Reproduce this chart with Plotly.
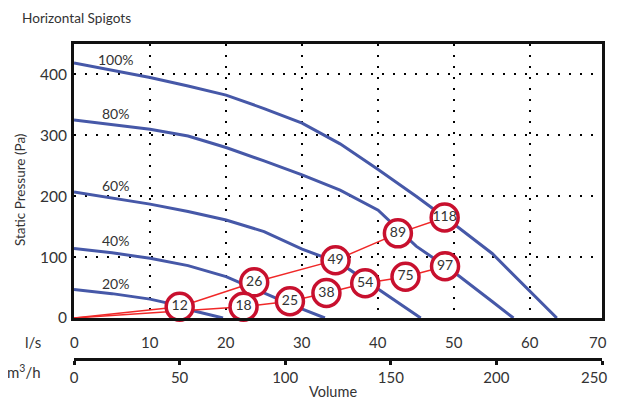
import plotly.graph_objects as go

# ---------------- data ----------------
# Fan curves: flow in l/s, static pressure in Pa
flow_100 = [0, 5, 10, 15, 20, 25, 30, 35, 40, 45, 50, 55, 60, 63.5]
pres_100 = [419, 407, 395, 381, 366, 344, 320, 286, 244, 200, 154, 106, 44, 0]

flow_80 = [0, 5, 10, 15, 20, 25, 30, 35, 40, 45, 50, 55, 57.8]
pres_80 = [325, 318, 310, 299, 280, 258, 235, 210, 177, 118, 75, 27, 0]

flow_60 = [0, 5, 10, 15, 20, 25, 30, 35, 40, 42.7, 45.6]
pres_60 = [207, 197, 187, 175, 161, 142, 113, 90, 47, 24, 0]

flow_40 = [0, 5, 10, 15, 20, 24, 28.7, 33]
pres_40 = [114, 107, 98, 86, 68, 46, 21, 0]

flow_20 = [0, 5, 10, 12.5, 15, 17.5, 19.6]
pres_20 = [47, 40, 31, 24, 14, 6, 0]

curve_labels = ["100%", "80%", "60%", "40%", "20%"]

# System lines with marked operating points
sysA_flow = [0, 13.9, 23.7, 34.4, 42.6, 48.75]
sysA_pres = [0, 18.5, 58.6, 95, 139, 165]
sysA_marks = ["", "12", "26", "49", "89", "118"]

sysB_flow = [0, 22.3, 28.4, 33.2, 38.3, 43.6, 48.8]
sysB_pres = [0, 18.5, 27.5, 41, 57, 67.8, 85]
sysB_marks = ["", "18", "25", "38", "54", "75", "97"]

# axis ticks
ls_ticks = [0, 10, 20, 30, 40, 50, 60, 70]
m3h_ticks = [0, 50, 100, 150, 200, 250]
pa_ticks = [0, 100, 200, 300, 400]

# ---------------- styling ----------------
FONT = "Lato"
TXT = "#333333"
BLUE = "#4658a8"
RED_LINE = "#f02828"
RED_RING = "#c8102e"

fig = go.Figure()

curves = [(flow_100, pres_100), (flow_80, pres_80), (flow_60, pres_60),
          (flow_40, pres_40), (flow_20, pres_20)]
for fx, fy in curves:
    fig.add_trace(go.Scatter(x=fx, y=fy, mode="lines",
                             line=dict(color=BLUE, width=3),
                             showlegend=False, hoverinfo="skip"))

for sx, sy in [(sysA_flow, sysA_pres), (sysB_flow, sysB_pres)]:
    fig.add_trace(go.Scatter(x=sx, y=sy, mode="lines",
                             line=dict(color=RED_LINE, width=1.5),
                             showlegend=False, hoverinfo="skip"))

for sx, sy, marks in [(sysA_flow, sysA_pres, sysA_marks),
                      (sysB_flow, sysB_pres, sysB_marks)]:
    fig.add_trace(go.Scatter(
        x=sx[1:], y=sy[1:], mode="markers+text", text=marks[1:],
        textposition="middle center",
        textfont=dict(family=FONT, size=14, color=TXT),
        marker=dict(size=27, color="white",
                    line=dict(color=RED_RING, width=3.5)),
        cliponaxis=False, showlegend=False, hoverinfo="skip"))

# invisible trace so the m3/h axis is drawn
fig.add_trace(go.Scatter(x=[m3h_ticks[0], m3h_ticks[-1]], y=[0, 0],
                         xaxis="x2", mode="markers",
                         marker=dict(opacity=0), showlegend=False,
                         hoverinfo="skip"))

# ---------------- layout ----------------
# the page shows the figure inside an 8px body margin, so the figure is
# 16px smaller than the window and every position is shifted by 8px
OFF = 8
W, H = 617 - 2 * OFF, 407 - 2 * OFF
L, T = 74 - OFF, 44 - OFF
R = W - (602 - OFF)
B = H - (395 - OFF)
plot_h = H - T - B
plot_w = W - L - R
X_MAX = 250 / 3.6          # l/s range matching 0..250 m3/h


def py(pix):
    """reference pixel row -> paper y"""
    return (H - B - (pix - OFF)) / plot_h


def px(pix):
    """reference pixel column -> paper x"""
    return (pix - OFF - L) / plot_w


ydom_bottom = py(318)

grid = dict(showgrid=True, gridcolor="#000000", gridwidth=2,
            griddash="2px,9px")

m3h_text = [str(v) for v in m3h_ticks[:-1]] + [""]

fig.update_layout(
    width=W, height=H,
    margin=dict(l=L, r=R, t=T, b=B, autoexpand=False),
    paper_bgcolor="white", plot_bgcolor="white",
    font=dict(family=FONT, color=TXT, size=15),
    xaxis=dict(domain=[0, 1], range=[0, X_MAX], automargin=False,
               tickvals=ls_ticks[1:-1], showticklabels=False, ticks="",
               showline=True, linecolor="#111111", linewidth=3, mirror=True,
               zeroline=False, anchor="y", **grid),
    yaxis=dict(domain=[ydom_bottom, 1], range=[0, 450], automargin=False,
               tickvals=pa_ticks, ticks="outside", ticklen=1,
               tickcolor="rgba(0,0,0,0)",
               tickfont=dict(family=FONT, size=15.5, color=TXT),
               showline=True, linecolor="#111111", linewidth=3, mirror=True,
               zeroline=False, **grid),
    xaxis2=dict(overlaying="x", anchor="free", position=py(359),
                automargin=False, ticklabeloverflow="allow",
                range=[0, 250.001], tickvals=m3h_ticks, ticktext=m3h_text,
                ticks="outside", ticklen=4, tickwidth=3, tickcolor="#111111",
                showline=True, linecolor="#111111", linewidth=3,
                showgrid=False, zeroline=False,
                tickfont=dict(family=FONT, size=15, color=TXT)),
)

ann = []
for t in ls_ticks[:-1]:
    ann.append(dict(x=t / X_MAX, y=py(341.5), xref="paper", yref="paper",
                    text=str(t), showarrow=False, xanchor="center",
                    yanchor="middle", font=dict(size=15)))
# last labels sit at the right edge of the page
ann.append(dict(x=px(609), y=py(341.5), xref="paper", yref="paper",
                text=str(ls_ticks[-1]), showarrow=False, xanchor="right",
                yanchor="middle", font=dict(size=15)))
ann.append(dict(x=px(609), y=py(376.5), xref="paper", yref="paper",
                text=str(m3h_ticks[-1]), showarrow=False, xanchor="right",
                yanchor="middle", font=dict(size=15)))
ann.append(dict(x=px(43), y=py(341.5), xref="paper", yref="paper",
                text="l/s", showarrow=False, xanchor="right",
                yanchor="middle", font=dict(size=15)))
ann.append(dict(x=px(43), y=py(371), xref="paper", yref="paper",
                text="m<sup>3</sup>/h", showarrow=False, xanchor="right",
                yanchor="middle", font=dict(size=15)))
ann.append(dict(x=px(333), y=py(391), xref="paper", yref="paper",
                text="Volume", showarrow=False, xanchor="center",
                yanchor="middle", font=dict(size=14.5)))
ann.append(dict(x=px(20), y=py(190), xref="paper", yref="paper",
                text="Static Pressure (Pa)", textangle=-90, showarrow=False,
                xanchor="center", yanchor="middle", font=dict(size=13.5)))
ann.append(dict(x=px(20), y=py(18), xref="paper", yref="paper",
                text="Horizontal Spigots", showarrow=False, xanchor="left",
                yanchor="middle", font=dict(size=13.6)))

label_y = [424, 336, 218, 128, 57]
for lab, ly in zip(curve_labels, label_y):
    ann.append(dict(x=5.5, y=ly, xref="x", yref="y", text=lab,
                    showarrow=False, xanchor="center", yanchor="middle",
                    font=dict(size=14)))

fig.update_layout(annotations=ann)

fig.write_html("out.html")
